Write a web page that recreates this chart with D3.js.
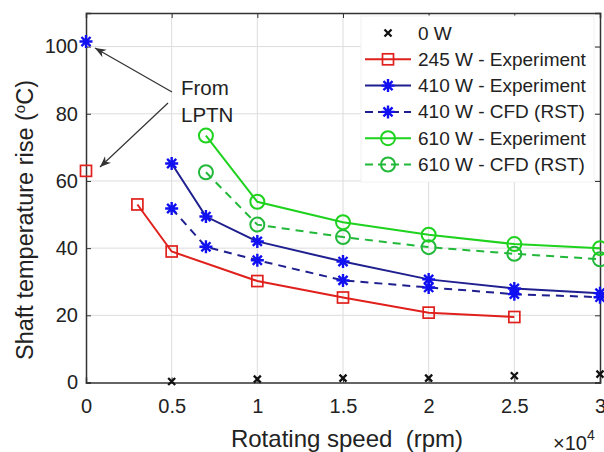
<!DOCTYPE html>
<html>
<head>
<meta charset="utf-8">
<script src="https://cdn.jsdelivr.net/npm/d3@7"></script>
<style>
body { margin: 0; background: #fff; }
text { font-family: "Liberation Sans", Arial, sans-serif; fill: #222; }
</style>
</head>
<body>
<script>
// rotating speed values (rpm)
var speed0W = [5000, 10000, 15000, 20000, 25000, 30000];
var temp0W = [0.3, 1, 1.3, 1.3, 2, 2.5];

var speed245 = [3000, 5000, 10000, 15000, 20000, 25000];
var temp245 = [53, 39, 30.2, 25.3, 20.8, 19.5];

var speed410 = [5000, 7000, 10000, 15000, 20000, 25000, 30000];
var temp410Exp = [65.2, 49.4, 42, 36, 30.7, 28, 26.6];
var temp410Cfd = [51.8, 40.4, 36.4, 30.4, 28.3, 26.3, 25.4];

var speed610 = [7000, 10000, 15000, 20000, 25000, 30000];
var temp610Exp = [73.5, 53.8, 47.7, 44, 41.2, 40];
var temp610Cfd = [62.6, 47, 43.3, 40.3, 38.3, 36.7];

// LPTN points at zero speed
var lptnSpeed = [0, 0];
var lptnTemp = [101.5, 63];

var xTicks = [0, 5000, 10000, 15000, 20000, 25000, 30000];
var xTickLabels = ["0", "0.5", "1", "1.5", "2", "2.5", "3"];
var yTicks = [0, 20, 40, 60, 80, 100];

var width = 604,
    height = 452,
    plotLeft = 86,
    plotRight = 600,
    plotTop = 13,
    plotBottom = 382.5;

var red = "#e0201c",
    navy = "#1f1f8f",
    blue = "#1010f0",
    green = "#1ed21e",
    green2 = "#22b83a";

var svg = d3.select('body')
    .append('svg')
    .attr('width', width)
    .attr('height', height);

var x = d3.scaleLinear().domain([0, 30000]).range([plotLeft, plotRight]);
var y = d3.scaleLinear().domain([0, 110]).range([plotBottom, plotTop]);

// grid
svg.selectAll(".gx")
    .data(xTicks.slice(1, -1))
    .enter().append("line")
    .attr("x1", function (d) { return x(d); })
    .attr("x2", function (d) { return x(d); })
    .attr("y1", plotTop)
    .attr("y2", plotBottom)
    .attr("stroke", "#dcdcdc")
    .attr("stroke-width", 1);
svg.selectAll(".gy")
    .data(yTicks.slice(1))
    .enter().append("line")
    .attr("x1", plotLeft)
    .attr("x2", plotRight)
    .attr("y1", function (d) { return y(d); })
    .attr("y2", function (d) { return y(d); })
    .attr("stroke", "#dcdcdc")
    .attr("stroke-width", 1);

// axes
var xAxis = d3.axisBottom(x).tickValues(xTicks)
    .tickFormat(function (d, i) { return xTickLabels[i]; })
    .tickSize(-5).tickPadding(16);
var yAxis = d3.axisLeft(y).tickValues(yTicks).tickSize(-5).tickPadding(8);

svg.append("g").attr("transform", "translate(0," + plotBottom + ")").call(xAxis);
svg.append("g").attr("transform", "translate(" + plotLeft + ",0)").call(yAxis);
svg.append("g").attr("transform", "translate(0," + plotTop + ")")
    .call(d3.axisTop(x).tickValues(xTicks).tickSize(-5).tickFormat(""));
svg.append("g").attr("transform", "translate(" + plotRight + ",0)")
    .call(d3.axisRight(y).tickValues(yTicks).tickSize(-5).tickFormat(""));
svg.selectAll(".domain").attr("stroke", "#333").attr("stroke-width", 1.5);
svg.selectAll(".tick line").attr("stroke", "#333");
svg.selectAll(".tick text").style("font-size", "20px").style("font-family", "Liberation Sans, Arial, sans-serif").attr("fill", "#222");

// axis labels
svg.append("text")
    .attr("x", 347)
    .attr("y", 447)
    .attr("text-anchor", "middle")
    .style("font-size", "24px")
    .text("Rotating speed \u00a0(rpm)");
svg.append("text")
    .attr("transform", "translate(33,220) rotate(-90)")
    .attr("text-anchor", "middle")
    .style("font-size", "23.5px")
    .html("Shaft temperature rise (<tspan dy='-8' style='font-size:15px'>o</tspan><tspan dy='8'>C)</tspan>");
var mult = svg.append("text")
    .attr("x", 553)
    .attr("y", 450)
    .style("font-size", "20px");
mult.append("tspan").text("\u00d710");
mult.append("tspan").attr("dy", -10).style("font-size", "14px").text("4");

// markers
function asterisk(s) {
    var d = s * 0.7;
    return "M" + (-s) + ",0L" + s + ",0M0," + (-s) + "L0," + s +
        "M" + (-d) + "," + (-d) + "L" + d + "," + d +
        "M" + (-d) + "," + d + "L" + d + "," + (-d);
}
function cross(s) {
    return "M" + (-s) + "," + (-s) + "L" + s + "," + s + "M" + (-s) + "," + s + "L" + s + "," + (-s);
}

function drawMarker(g, type, color, cx, cy) {
    if (type === "square") {
        g.append("rect").attr("x", cx - 5.5).attr("y", cy - 5.5)
            .attr("width", 11).attr("height", 11)
            .attr("fill", "none").attr("stroke", color).attr("stroke-width", 1.7);
    } else if (type === "circle") {
        g.append("circle").attr("cx", cx).attr("cy", cy).attr("r", 7)
            .attr("fill", "none").attr("stroke", color).attr("stroke-width", 2);
    } else if (type === "star") {
        g.append("path").attr("d", asterisk(6.5))
            .attr("transform", "translate(" + cx + "," + cy + ")")
            .attr("stroke", color).attr("stroke-width", 2.4).attr("fill", "none");
    } else if (type === "x") {
        g.append("path").attr("d", cross(3.5))
            .attr("transform", "translate(" + cx + "," + cy + ")")
            .attr("stroke", "#111").attr("stroke-width", 2.3).attr("fill", "none");
    }
}

var series = [
    {xs: speed245, ys: temp245, line: red, marker: red, type: "square", dash: null},
    {xs: speed410, ys: temp410Cfd, line: navy, marker: blue, type: "star", dash: "8,6"},
    {xs: speed410, ys: temp410Exp, line: navy, marker: blue, type: "star", dash: null},
    {xs: speed610, ys: temp610Cfd, line: green2, marker: green2, type: "circle", dash: "8,6"},
    {xs: speed610, ys: temp610Exp, line: green, marker: green, type: "circle", dash: null}
];

var lineGen = d3.line()
    .x(function (d) { return x(d[0]); })
    .y(function (d) { return y(d[1]); });

var plot = svg.append("g");
series.forEach(function (s) {
    var pts = d3.zip(s.xs, s.ys);
    plot.append("path")
        .attr("d", lineGen(pts))
        .attr("fill", "none")
        .attr("stroke", s.line)
        .attr("stroke-width", 2)
        .attr("stroke-dasharray", s.dash);
    pts.forEach(function (p) {
        drawMarker(plot, s.type, s.marker, x(p[0]), y(p[1]));
    });
});
speed0W.forEach(function (v, i) {
    drawMarker(plot, "x", "#111", x(v), y(temp0W[i]));
});
drawMarker(plot, "star", blue, x(lptnSpeed[0]), y(lptnTemp[0]));
drawMarker(plot, "square", red, x(lptnSpeed[1]), y(lptnTemp[1]));

// annotation
svg.append("defs").append("marker")
    .attr("id", "arrow")
    .attr("viewBox", "0 -5 10 10")
    .attr("refX", 10)
    .attr("refY", 0)
    .attr("markerWidth", 11)
    .attr("markerHeight", 11)
    .attr("markerUnits", "userSpaceOnUse")
    .attr("orient", "auto")
    .append("path")
    .attr("d", "M0,-4L10,0L0,4L3,0Z")
    .attr("fill", "#333");
svg.append("line")
    .attr("x1", 172).attr("y1", 92).attr("x2", 95).attr("y2", 48)
    .attr("stroke", "#333").attr("stroke-width", 1.2).attr("marker-end", "url(#arrow)");
svg.append("line")
    .attr("x1", 168).attr("y1", 103).attr("x2", 100).attr("y2", 167)
    .attr("stroke", "#333").attr("stroke-width", 1.2).attr("marker-end", "url(#arrow)");
svg.append("text").attr("x", 181).attr("y", 95).style("font-size", "20.5px").text("From");
svg.append("text").attr("x", 181).attr("y", 122).style("font-size", "20.5px").text("LPTN");

// legend
var legendNames = ["0 W", "245 W - Experiment", "410 W - Experiment", "410 W - CFD (RST)",
    "610 W - Experiment", "610 W - CFD (RST)"];
var legendTypes = ["x", "square", "star", "star", "circle", "circle"];
var legendLine = [null, red, navy, navy, green, green2];
var legendMarker = ["#111", red, blue, blue, green, green2];
var legendDash = [null, null, null, "8,5", null, "8,5"];

var lg = svg.append("g");
lg.append("rect")
    .attr("x", 361).attr("y", 16)
    .attr("width", 233).attr("height", 166)
    .attr("fill", "#fff")
    .attr("stroke", "#f2f2f2");
legendNames.forEach(function (name, i) {
    var ly = 33 + i * 26.3;
    if (legendLine[i]) {
        lg.append("line")
            .attr("x1", 365).attr("x2", 411)
            .attr("y1", ly).attr("y2", ly)
            .attr("stroke", legendLine[i]).attr("stroke-width", 2)
            .attr("stroke-dasharray", legendDash[i]);
    }
    drawMarker(lg, legendTypes[i], legendMarker[i], 388, ly);
    lg.append("text")
        .attr("x", 418).attr("y", ly + 6.5)
        .style("font-size", "19px")
        .text(name);
});
</script>
</body>
</html>
